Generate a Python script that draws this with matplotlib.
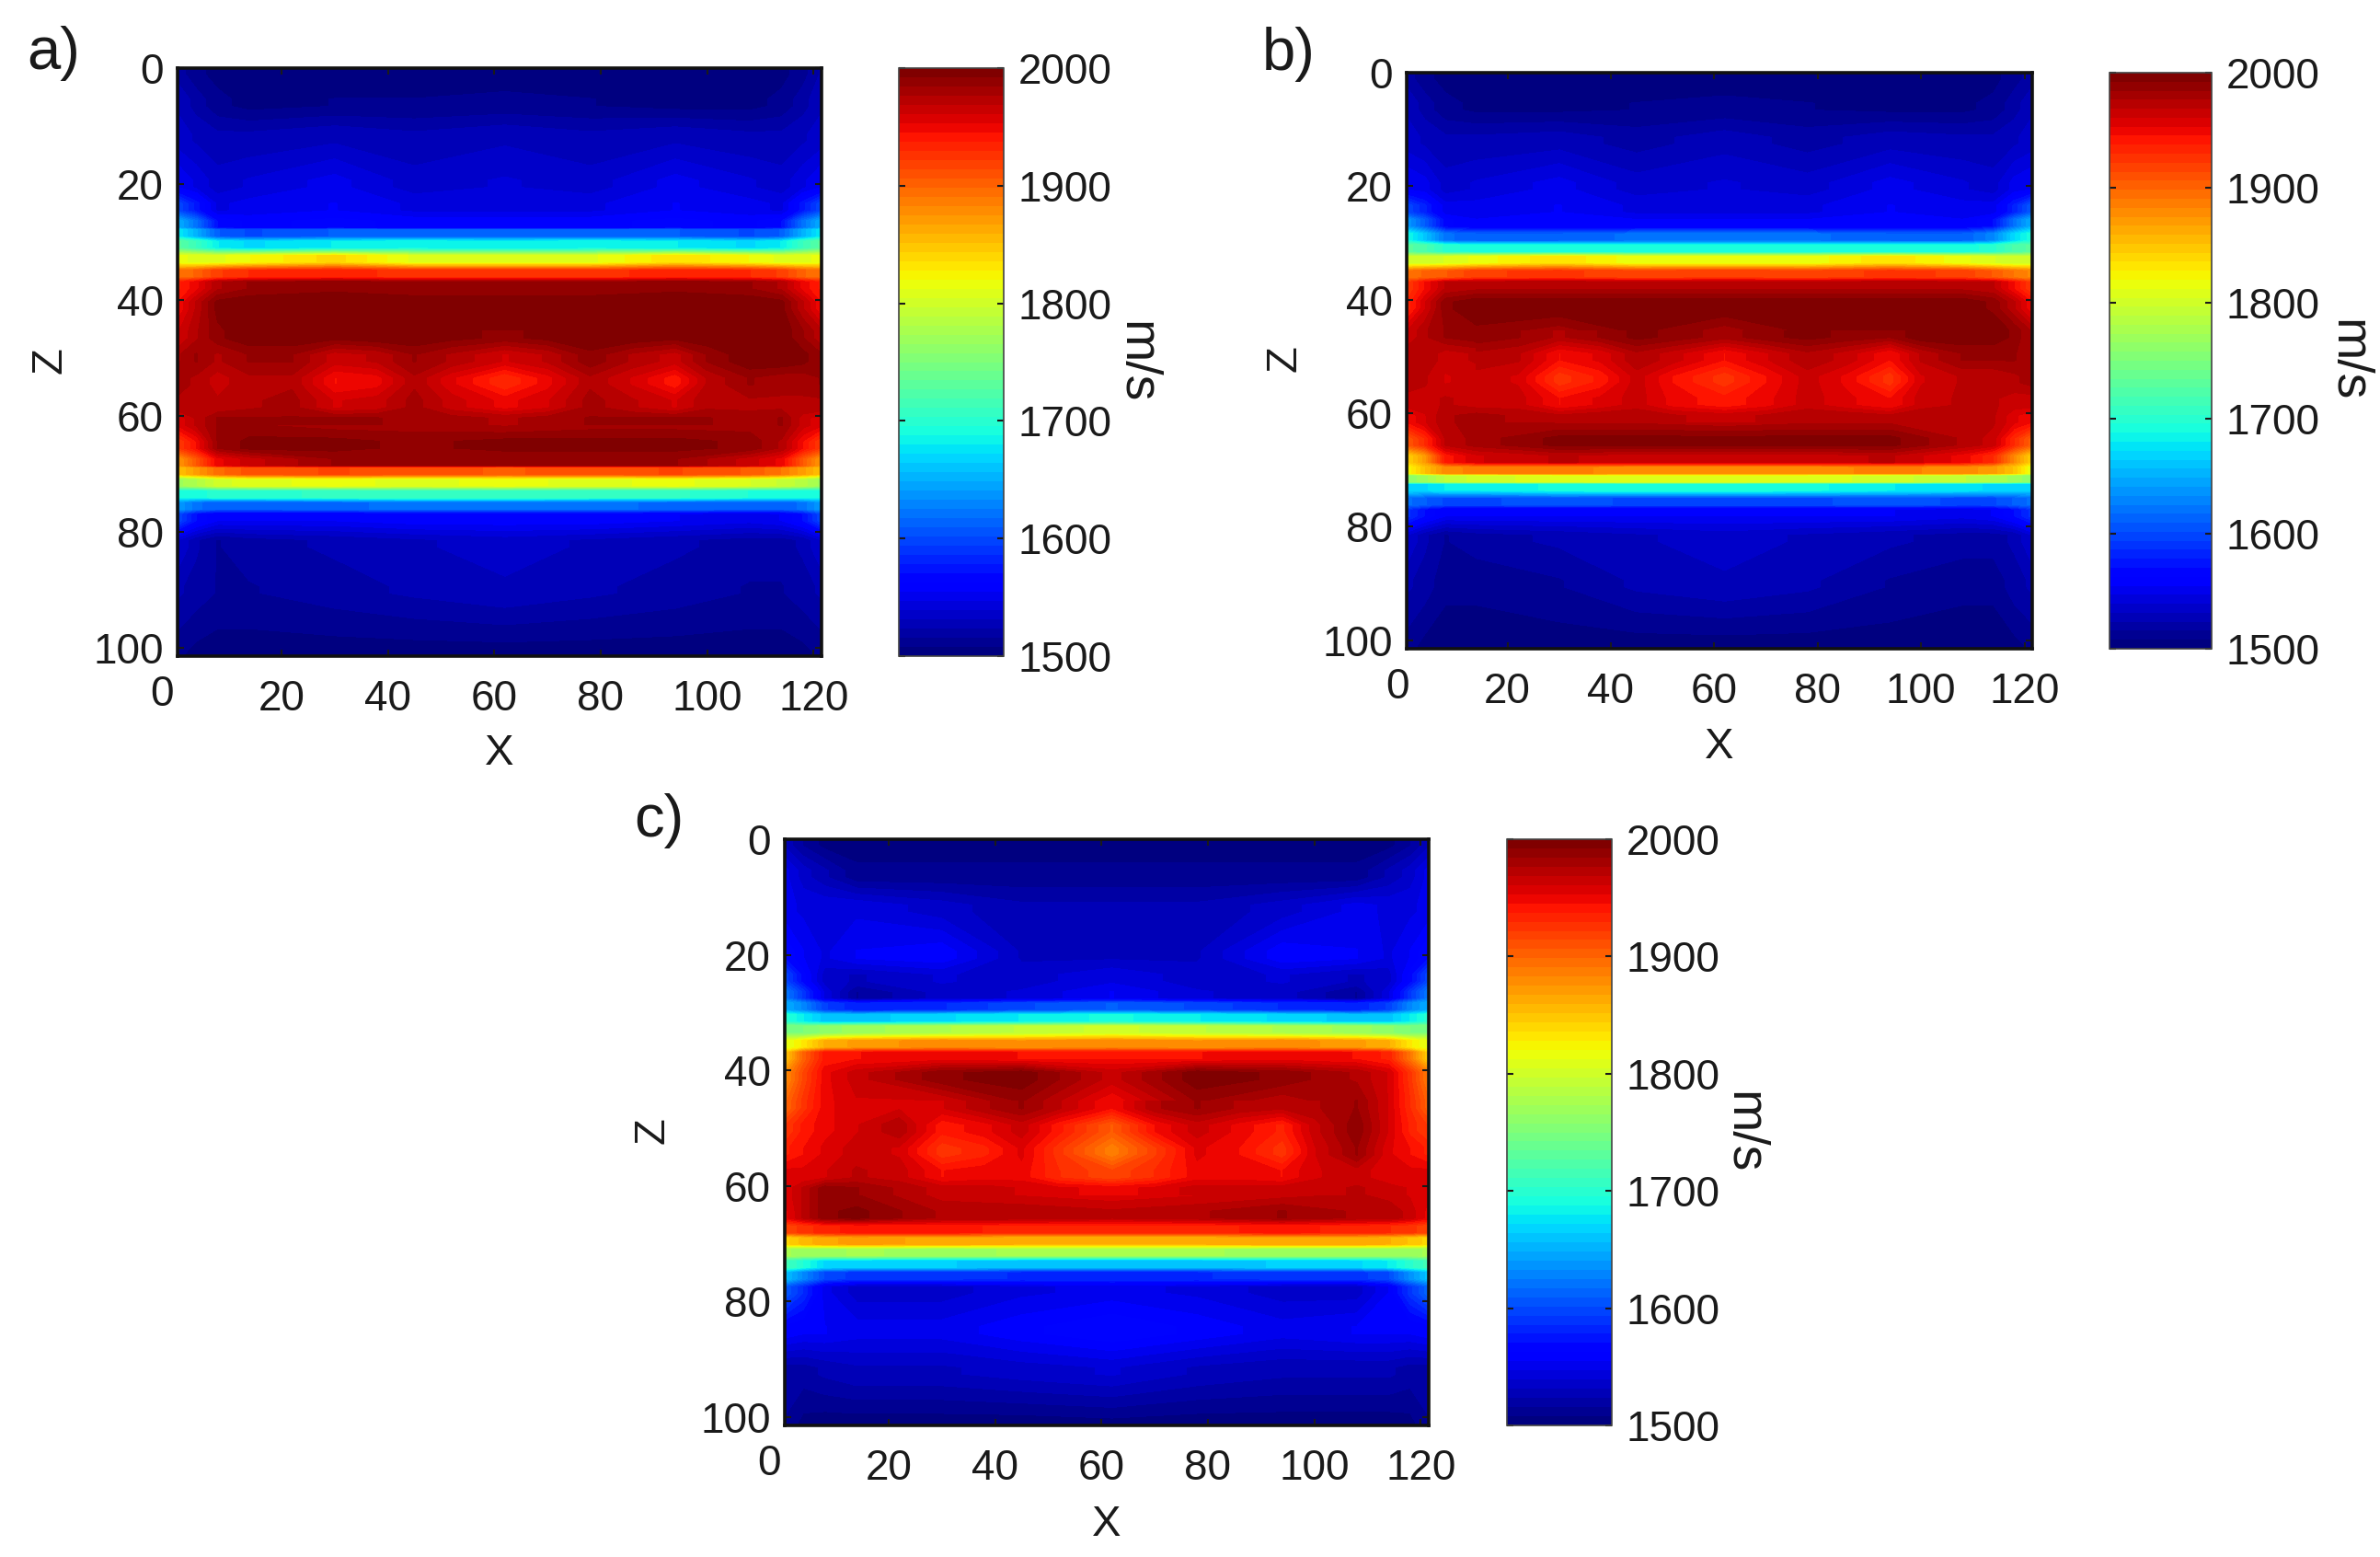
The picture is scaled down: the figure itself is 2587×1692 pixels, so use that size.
import numpy as np
import matplotlib
matplotlib.use('Agg')
import matplotlib.pyplot as plt

plt.rcParams['font.family'] = ['Liberation Sans', 'DejaVu Sans']

# grid columns shared by all panels
x_cols = [0.5, 4, 8, 14, 30, 45, 62, 78, 94, 108, 114, 118, 121.5]

z_a = [0.5, 6, 12, 20, 24, 27, 28.5, 30.5, 33, 35.5, 37.5, 41, 46, 50, 54, 58, 61, 65, 68, 69.5, 71.5, 73.5, 75.5,
       77.5, 82, 90, 101.5]
vel_a = [
    [1520, 1510, 1505, 1503, 1503, 1503, 1503, 1503, 1503, 1503, 1505, 1512, 1525],
    [1530, 1520, 1510, 1505, 1508, 1508, 1510, 1508, 1505, 1505, 1510, 1520, 1530],
    [1535, 1530, 1525, 1525, 1530, 1525, 1530, 1525, 1530, 1525, 1525, 1530, 1535],
    [1555, 1545, 1535, 1540, 1550, 1535, 1540, 1535, 1550, 1540, 1535, 1545, 1555],
    [1600, 1575, 1545, 1550, 1555, 1545, 1545, 1545, 1555, 1550, 1545, 1575, 1600],
    [1650, 1620, 1570, 1560, 1565, 1560, 1560, 1560, 1565, 1560, 1570, 1620, 1650],
    [1680, 1650, 1610, 1600, 1610, 1610, 1610, 1610, 1610, 1600, 1610, 1650, 1680],
    [1730, 1710, 1680, 1670, 1680, 1685, 1680, 1685, 1680, 1670, 1680, 1710, 1730],
    [1815, 1810, 1810, 1820, 1840, 1810, 1810, 1810, 1835, 1820, 1810, 1810, 1815],
    [1890, 1900, 1920, 1930, 1935, 1925, 1925, 1925, 1935, 1930, 1920, 1900, 1890],
    [1935, 1950, 1975, 1985, 1990, 1985, 1985, 1985, 1990, 1985, 1975, 1950, 1935],
    [1945, 1970, 1995, 2000, 2000, 2000, 2000, 2000, 2000, 2000, 1995, 1970, 1945],
    [1960, 1975, 1990, 2000, 2000, 2000, 2000, 2000, 2000, 2000, 2000, 1985, 1970],
    [1975, 1985, 1975, 1985, 1965, 1975, 1965, 1975, 1965, 2000, 2000, 1995, 1985],
    [1980, 1975, 1965, 1975, 1945, 1965, 1935, 1965, 1945, 1985, 1980, 1980, 1985],
    [1975, 1975, 1970, 1975, 1960, 1965, 1955, 1965, 1960, 1975, 1975, 1975, 1975],
    [1955, 1970, 1985, 1985, 1980, 1980, 1975, 1980, 1980, 1980, 1985, 1965, 1955],
    [1920, 1945, 1985, 1995, 1995, 1990, 1995, 1995, 1995, 1990, 1975, 1945, 1920],
    [1870, 1905, 1950, 1965, 1985, 1985, 1985, 1985, 1985, 1965, 1950, 1905, 1870],
    [1850, 1870, 1895, 1910, 1915, 1910, 1905, 1910, 1915, 1905, 1890, 1870, 1850],
    [1770, 1780, 1800, 1810, 1815, 1810, 1815, 1810, 1815, 1805, 1795, 1785, 1770],
    [1690, 1690, 1700, 1700, 1705, 1710, 1710, 1705, 1705, 1695, 1695, 1690, 1690],
    [1640, 1620, 1610, 1610, 1615, 1620, 1620, 1620, 1615, 1610, 1610, 1620, 1640],
    [1600, 1570, 1555, 1555, 1555, 1560, 1560, 1560, 1555, 1550, 1555, 1570, 1600],
    [1540, 1525, 1515, 1520, 1525, 1530, 1535, 1530, 1525, 1520, 1520, 1525, 1540],
    [1525, 1520, 1515, 1515, 1520, 1525, 1530, 1525, 1520, 1515, 1515, 1520, 1525],
    [1510, 1505, 1503, 1503, 1503, 1503, 1503, 1503, 1503, 1503, 1503, 1505, 1510],
]

z_b = [0.5, 6, 12, 20, 24, 26.5, 29, 31, 33, 35.5, 37.5, 41, 46, 50, 54, 58, 61, 65, 68, 70, 71.5, 73, 75.5,
       77.5, 82, 90, 101.5]
vel_b = [
    [1520, 1510, 1505, 1503, 1503, 1503, 1503, 1503, 1503, 1503, 1505, 1512, 1520],
    [1530, 1520, 1510, 1506, 1506, 1508, 1510, 1508, 1506, 1506, 1510, 1520, 1530],
    [1535, 1530, 1525, 1525, 1528, 1520, 1528, 1520, 1528, 1525, 1525, 1530, 1535],
    [1555, 1550, 1535, 1540, 1550, 1535, 1540, 1535, 1550, 1540, 1535, 1550, 1555],
    [1600, 1580, 1550, 1550, 1555, 1545, 1545, 1545, 1555, 1550, 1550, 1580, 1610],
    [1640, 1610, 1565, 1555, 1555, 1555, 1555, 1555, 1555, 1555, 1570, 1620, 1650],
    [1690, 1660, 1620, 1610, 1610, 1620, 1620, 1620, 1610, 1610, 1630, 1670, 1695],
    [1730, 1720, 1700, 1690, 1690, 1690, 1690, 1690, 1690, 1690, 1700, 1720, 1730],
    [1800, 1800, 1805, 1815, 1835, 1815, 1815, 1815, 1835, 1815, 1805, 1800, 1800],
    [1890, 1900, 1905, 1920, 1925, 1915, 1920, 1915, 1925, 1920, 1905, 1890, 1880],
    [1920, 1945, 1970, 1975, 1975, 1975, 1975, 1975, 1975, 1975, 1970, 1945, 1920],
    [1930, 1960, 1990, 2000, 2000, 2000, 2000, 2000, 2000, 2000, 1990, 1970, 1945],
    [1960, 1975, 1985, 1990, 1980, 1995, 1980, 1995, 1995, 2000, 2000, 1990, 1975],
    [1975, 1975, 1965, 1970, 1960, 1975, 1955, 1975, 1955, 1985, 1985, 1985, 1980],
    [1975, 1970, 1960, 1965, 1930, 1965, 1925, 1960, 1925, 1970, 1970, 1975, 1980],
    [1965, 1965, 1970, 1965, 1950, 1965, 1945, 1960, 1955, 1970, 1970, 1965, 1965],
    [1945, 1960, 1975, 1980, 1975, 1975, 1970, 1975, 1975, 1975, 1970, 1955, 1945],
    [1905, 1930, 1970, 1980, 1995, 1995, 1995, 1995, 1995, 1975, 1965, 1930, 1900],
    [1840, 1870, 1940, 1960, 1970, 1965, 1965, 1965, 1970, 1950, 1930, 1880, 1840],
    [1820, 1850, 1880, 1885, 1885, 1880, 1880, 1880, 1885, 1880, 1870, 1850, 1810],
    [1760, 1770, 1790, 1800, 1810, 1810, 1810, 1810, 1800, 1790, 1780, 1770, 1760],
    [1670, 1670, 1680, 1680, 1690, 1695, 1695, 1690, 1680, 1675, 1670, 1665, 1665],
    [1620, 1610, 1600, 1600, 1605, 1600, 1600, 1600, 1605, 1600, 1600, 1610, 1620],
    [1590, 1570, 1555, 1555, 1555, 1555, 1555, 1555, 1555, 1550, 1555, 1570, 1590],
    [1540, 1525, 1515, 1520, 1525, 1530, 1535, 1530, 1525, 1520, 1520, 1525, 1540],
    [1525, 1520, 1510, 1510, 1515, 1525, 1530, 1525, 1515, 1510, 1510, 1520, 1525],
    [1512, 1505, 1503, 1503, 1503, 1503, 1503, 1503, 1503, 1503, 1503, 1505, 1510],
]

z_c = [0.5, 6, 12, 20, 24, 27, 29, 31, 33, 35.5, 37.5, 41, 46, 50, 54, 58, 61, 65, 67.5, 69.5, 71.5, 73.5, 75.5,
       78, 85, 92, 101.5]
vel_c = [
    [1530, 1515, 1505, 1503, 1503, 1503, 1503, 1503, 1503, 1503, 1505, 1515, 1530],
    [1550, 1535, 1525, 1510, 1510, 1510, 1510, 1510, 1510, 1510, 1525, 1535, 1550],
    [1550, 1545, 1545, 1545, 1535, 1525, 1525, 1525, 1535, 1550, 1545, 1545, 1550],
    [1570, 1555, 1545, 1555, 1560, 1530, 1530, 1530, 1560, 1555, 1545, 1555, 1570],
    [1600, 1565, 1535, 1530, 1540, 1535, 1545, 1535, 1540, 1530, 1535, 1565, 1600],
    [1625, 1590, 1545, 1515, 1535, 1540, 1555, 1540, 1535, 1515, 1545, 1590, 1625],
    [1650, 1630, 1595, 1580, 1585, 1600, 1610, 1600, 1585, 1580, 1595, 1630, 1650],
    [1700, 1680, 1660, 1660, 1670, 1680, 1690, 1680, 1670, 1660, 1660, 1680, 1700],
    [1750, 1750, 1760, 1770, 1780, 1790, 1800, 1790, 1780, 1770, 1760, 1750, 1750],
    [1810, 1830, 1860, 1870, 1880, 1875, 1880, 1875, 1880, 1870, 1860, 1830, 1810],
    [1845, 1900, 1940, 1945, 1950, 1945, 1945, 1945, 1950, 1945, 1935, 1890, 1840],
    [1875, 1915, 1950, 1965, 1990, 1998, 1965, 1998, 1990, 1975, 1960, 1925, 1885],
    [1895, 1925, 1950, 1960, 1960, 1985, 1945, 1985, 1970, 1985, 1960, 1930, 1900],
    [1920, 1940, 1950, 1960, 1945, 1950, 1905, 1950, 1945, 1990, 1960, 1935, 1920],
    [1935, 1945, 1955, 1965, 1925, 1935, 1885, 1930, 1925, 1985, 1955, 1945, 1935],
    [1955, 1955, 1960, 1970, 1945, 1940, 1920, 1935, 1945, 1965, 1955, 1955, 1955],
    [1955, 1970, 1990, 1985, 1965, 1960, 1955, 1960, 1965, 1970, 1965, 1960, 1955],
    [1950, 1970, 1990, 1995, 1975, 1975, 1970, 1975, 1985, 1975, 1975, 1965, 1950],
    [1915, 1925, 1935, 1940, 1940, 1935, 1935, 1935, 1940, 1935, 1930, 1925, 1915],
    [1840, 1855, 1865, 1870, 1865, 1860, 1860, 1860, 1865, 1865, 1860, 1850, 1840],
    [1775, 1770, 1770, 1775, 1770, 1775, 1775, 1775, 1770, 1770, 1770, 1770, 1775],
    [1715, 1695, 1670, 1670, 1665, 1660, 1660, 1660, 1665, 1670, 1680, 1700, 1715],
    [1660, 1630, 1600, 1590, 1590, 1585, 1585, 1585, 1590, 1590, 1600, 1635, 1660],
    [1610, 1585, 1550, 1535, 1535, 1545, 1550, 1545, 1535, 1535, 1555, 1590, 1615],
    [1560, 1555, 1555, 1550, 1550, 1560, 1570, 1560, 1550, 1555, 1555, 1555, 1560],
    [1520, 1520, 1525, 1530, 1530, 1535, 1540, 1530, 1525, 1525, 1525, 1520, 1520],
    [1515, 1505, 1503, 1503, 1503, 1503, 1505, 1503, 1503, 1503, 1503, 1505, 1515],
]

# finer readings of the slow spots in the middle of the layer
x_core = [14, 22, 30, 38, 45, 52, 62, 70, 78, 86, 94, 100, 108]
z_core = [46, 50, 54, 58, 61]
core_a = [
    [2000, 2000, 1995, 2000, 2000, 1995, 1990, 1995, 2000, 2000, 1995, 2000, 2000],
    [1985, 1985, 1965, 1970, 1985, 1975, 1960, 1970, 1990, 1975, 1965, 1985, 2000],
    [1975, 1975, 1945, 1950, 1975, 1955, 1930, 1950, 1975, 1960, 1940, 1970, 1985],
    [1975, 1980, 1960, 1965, 1980, 1965, 1950, 1960, 1980, 1970, 1960, 1975, 1975],
    [1985, 1985, 1985, 1985, 1980, 1980, 1975, 1980, 1985, 1985, 1985, 1985, 1980],
]
core_b = [
    [1990, 1985, 1975, 1985, 1995, 1990, 1980, 1990, 1995, 1990, 1985, 2000, 2000],
    [1975, 1970, 1945, 1955, 1975, 1965, 1945, 1960, 1975, 1965, 1945, 1970, 1985],
    [1965, 1960, 1925, 1940, 1965, 1945, 1925, 1945, 1965, 1950, 1925, 1960, 1970],
    [1965, 1965, 1945, 1955, 1965, 1950, 1940, 1950, 1965, 1955, 1945, 1965, 1970],
    [1980, 1975, 1970, 1975, 1975, 1970, 1965, 1970, 1975, 1975, 1970, 1975, 1975],
]
core_c = [
    [1960, 1960, 1960, 1975, 1985, 1970, 1945, 1975, 1985, 1975, 1970, 1975, 1985],
    [1960, 1975, 1940, 1950, 1965, 1940, 1905, 1945, 1965, 1950, 1935, 1965, 1990],
    [1965, 1960, 1925, 1935, 1955, 1925, 1885, 1920, 1955, 1945, 1925, 1960, 1985],
    [1970, 1965, 1945, 1950, 1950, 1930, 1915, 1930, 1950, 1950, 1945, 1960, 1965],
    [1985, 1975, 1965, 1965, 1960, 1955, 1950, 1955, 1965, 1965, 1965, 1965, 1970],
]

tick_x = [20, 40, 60, 80, 100, 120]
tick_z = [0, 20, 40, 60, 80, 100]
tick_v = [1500, 1600, 1700, 1800, 1900, 2000]
levels = np.linspace(1500, 2000, 65)

W, H = 2587, 1692
fs = 33
ink = '#1a1a1a'
fig = plt.figure(figsize=(W / 100, H / 100), dpi=100)


def px_axes(x0, y0, x1, y1):
    # pixel box in the reference, y from the top
    return fig.add_axes([x0 / W, 1 - y1 / H, (x1 - x0) / W, (y1 - y0) / H])


def fill(ax, xs, zs, vel):
    # each row is held flat for a little, the original is made of coarse model cells
    zz = np.repeat(zs, 2) + np.tile([-0.6, 0.6], len(zs))
    vv = np.repeat(np.clip(vel, 1501, 1999), 2, axis=0)
    return ax.contourf(xs, zz, vv, levels=levels, cmap=plt.get_cmap('jet', 64))


def panel(z_rows, vel, core, box, cbox, letter, letter_xy, zero_x, xlab_y, zlab_x, ms_x):
    ax = px_axes(*box)
    cs = fill(ax, x_cols, z_rows, vel)
    fill(ax, x_core, z_core, core)
    ax.set_xlim(0.5, 121.5)
    ax.set_ylim(101.5, 0.5)
    ax.set_xticks(tick_x)
    ax.set_yticks(tick_z)
    ax.tick_params(axis='both', direction='in', length=5, width=1.5, top=True, right=True, labelsize=fs, colors=ink)
    ax.tick_params(axis='x', pad=18)
    ax.tick_params(axis='y', pad=11)
    for s in ax.spines.values():
        s.set_linewidth(2.6)
        s.set_color('#111111')
    # the 0 sits left of the axes box, outside the x range
    zero_px = box[0] + (zero_x - 0.5) / 121 * (box[2] - box[0])
    fig.text(zero_px / W, 1 - (box[3] + 42) / H, '0', fontsize=fs, ha='center', va='center', color=ink)
    fig.text((box[0] + box[2]) / 2 / W, 1 - xlab_y / H, 'X', fontsize=34, ha='center', va='center', color=ink)
    fig.text(zlab_x / W, 1 - ((box[1] + box[3]) / 2 - 2) / H, 'Z', fontsize=34, rotation=90, ha='center',
             va='center', color=ink)
    fig.text(letter_xy[0] / W, 1 - letter_xy[1] / H, letter, fontsize=47, ha='center', va='center', color=ink)

    cax = px_axes(*cbox)
    cb = fig.colorbar(cs, cax=cax, ticks=tick_v)
    cb.outline.set_linewidth(1.2)
    cb.outline.set_edgecolor('#444444')
    cax.tick_params(axis='y', direction='in', length=5, width=1.5, left=True, right=True, labelsize=fs, pad=11,
                    colors=ink)
    cax.minorticks_off()
    fig.text(ms_x / W, 1 - (cbox[1] + cbox[3]) / 2 / H, 'm/s', fontsize=40, rotation=270, ha='center', va='center',
             color=ink)


panel(z_a, vel_a, core_a, (193, 74, 893, 713), (977, 74, 1091, 713), 'a)', (58, 58), -2.4, 819, 54, 1234)
panel(z_b, vel_b, core_b, (1529, 79, 2209, 705), (2293, 79, 2404, 705), 'b)', (1401, 59), -1.3, 812, 1396, 2551)
panel(z_c, vel_c, core_c, (853, 912, 1553, 1549), (1638, 912, 1752, 1549), 'c)', (716, 892), -2.4, 1657, 710, 1894)

fig.savefig('out.png', dpi=100, facecolor='white')
